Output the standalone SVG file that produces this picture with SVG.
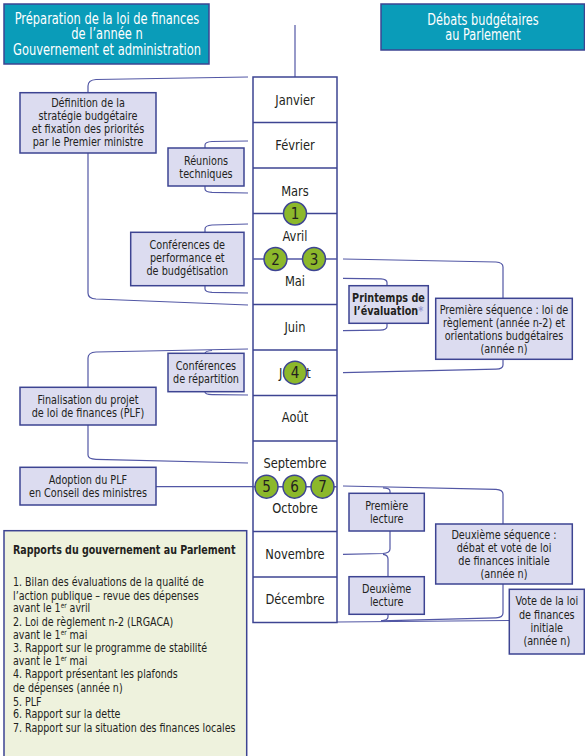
<svg xmlns="http://www.w3.org/2000/svg" width="585" height="756" viewBox="0 0 585 756">
<style>
text{font-family:"DejaVu Sans Condensed","Liberation Sans",sans-serif;fill:#231f20}
.hd{fill:#0a9cb9;stroke:#3d4492;stroke-width:1.5}
.hdt{fill:#ffffff;font-size:15px;text-anchor:middle}
.mo{fill:#ffffff;stroke:#3d4492;stroke-width:1.5}
.mt{font-size:14.5px;text-anchor:middle}
.nd{fill:#dcdcf0;stroke:#3d4492;stroke-width:1.5}
.nt{font-size:12.8px;text-anchor:middle}
.cn{fill:none;stroke:#5257a5;stroke-width:1.2}
.ci{fill:#8cb82b;stroke:#3d4492;stroke-width:1.5}
.ct{font-size:15px;text-anchor:middle}
.gb{fill:#eef2dd;stroke:#3d4492;stroke-width:1.5}
.gt{font-size:12.3px}
.sup{font-size:7.5px}
</style>

<g id="header-left">
<rect class="hd" x="4" y="4" width="205" height="60"/>
<g transform="translate(107 0) scale(0.85 1) translate(-107 0)">
<text class="hdt" x="107" y="24">Préparation de la loi de finances</text>
<text class="hdt" x="107" y="39.5">de l’année n</text>
<text class="hdt" x="107" y="55">Gouvernement et administration</text>
</g>
</g>

<g id="header-right">
<rect class="hd" x="381" y="4" width="203.5" height="46"/>
<g transform="translate(483 0) scale(0.84 1) translate(-483 0)">
<text class="hdt" x="483" y="25">Débats budgétaires</text>
<text class="hdt" x="483" y="40">au Parlement</text>
</g>
</g>

<g id="connectors">
<path class="cn" d="M295,25 L295,77"/>
<path class="cn" d="M248,77 L96,79.5 Q88,80 88,86 L88,93"/>
<path class="cn" d="M88,153 L88,293 Q88,298.5 96,299 L248,305"/>
<path class="cn" d="M248,141 L212,141.5 Q205,142 205,145 L205,148"/>
<path class="cn" d="M205,186 L205,189 Q205,192 212,192.3 L248,193"/>
<path class="cn" d="M248,224 L212,225 Q205,225.5 205,229 L205,232"/>
<path class="cn" d="M205,286 L205,289 Q205,292 212,292.3 L248,293"/>
<path class="cn" d="M248,349 L96,352 Q88,352.5 88,358 L88,387"/>
<path class="cn" d="M212,350.5 Q205,351 205,353.5"/>
<path class="cn" d="M205,392 Q205,394.5 212,394.6 L248,395"/>
<path class="cn" d="M88,425 L88,455 Q88,459 96,459.3 L248,463"/>
<path class="cn" d="M156,486.7 L253,486.7"/>
<path class="cn" d="M343,259 L496,262 Q503,262.5 503,267 L503,298.3"/>
<path class="cn" d="M503,359.3 L503,365 Q503,369 496,369.2 L343,372.7"/>
<path class="cn" d="M343,278.3 L381,278.8 Q387,279.3 387,282.5 L387,285.7"/>
<path class="cn" d="M387,323.3 L387,326.5 Q387,330 380,330.2 L343,330.7"/>
<path class="cn" d="M343,486 L496,489.3 Q503,489.8 503,494 L503,524"/>
<path class="cn" d="M383,487.9 Q390,488.2 390,491 L390,493.3"/>
<path class="cn" d="M390,531 L390,549 Q390,553 383,553.5 L343,554.3"/>
<path class="cn" d="M383,554.3 Q388,554.8 388,559 L388,576.7"/>
<path class="cn" d="M388,614.3 L388,617 Q388,620.3 381,620.8"/>
<path class="cn" d="M503,584 L503,613 Q503,617.5 496,617.8 L381,620.8"/>
<path class="cn" d="M337,622 L509,620.5"/>
</g>

<g id="months">
<rect class="mo" x="253" y="77" width="84" height="545.5"/>
<g stroke="#3d4492" stroke-width="1.5">
<line x1="253" y1="122.5" x2="337" y2="122.5"/>
<line x1="253" y1="168" x2="337" y2="168"/>
<line x1="253" y1="213.5" x2="337" y2="213.5"/>
<line x1="253" y1="304.5" x2="337" y2="304.5"/>
<line x1="253" y1="350" x2="337" y2="350"/>
<line x1="253" y1="395.5" x2="337" y2="395.5"/>
<line x1="253" y1="441" x2="337" y2="441"/>
<line x1="253" y1="531.5" x2="337" y2="531.5"/>
<line x1="253" y1="577" x2="337" y2="577"/>
</g>
<line x1="253" y1="259" x2="337" y2="259" stroke="#5257a5" stroke-width="1.5"/>
<line x1="253" y1="486.7" x2="337" y2="486.7" stroke="#5257a5" stroke-width="1.5"/>
<g transform="translate(295 0) scale(0.88 1) translate(-295 0)">
<text class="mt" x="295" y="105">Janvier</text>
<text class="mt" x="295" y="150">Février</text>
<text class="mt" x="295" y="196">Mars</text>
<text class="mt" x="295" y="241">Avril</text>
<text class="mt" x="295" y="286">Mai</text>
<text class="mt" x="295" y="332">Juin</text>
<text class="mt" x="295" y="378">Juillet</text>
<text class="mt" x="295" y="422">Août</text>
<text class="mt" x="295" y="468.5">Septembre</text>
<text class="mt" x="295" y="513.5">Octobre</text>
<text class="mt" x="295" y="559.5">Novembre</text>
<text class="mt" x="295" y="604.5">Décembre</text>
</g>
</g>

<g id="circle-1"><circle class="ci" cx="295" cy="213.5" r="11.5"/><text class="ct" x="295" y="219">1</text></g>
<g id="circle-2"><circle class="ci" cx="275.5" cy="259" r="11.5"/><text class="ct" x="275.5" y="264.5">2</text></g>
<g id="circle-3"><circle class="ci" cx="314" cy="259" r="11.5"/><text class="ct" x="314" y="264.5">3</text></g>
<g id="circle-4"><circle class="ci" cx="295" cy="372.7" r="11.5"/><text class="ct" x="295" y="378.2">4</text></g>
<g id="circle-5"><circle class="ci" cx="266.5" cy="486.7" r="11.5"/><text class="ct" x="266.5" y="492.2">5</text></g>
<g id="circle-6"><circle class="ci" cx="294.5" cy="486.7" r="11.5"/><text class="ct" x="294.5" y="492.2">6</text></g>
<g id="circle-7"><circle class="ci" cx="322.5" cy="486.7" r="11.5"/><text class="ct" x="322.5" y="492.2">7</text></g>

<g id="definition">
<rect class="nd" x="20" y="92.7" width="136" height="60.3"/>
<g transform="translate(88 0) scale(0.84 1) translate(-88 0)">
<text class="nt" x="88" y="107">Définition de la</text>
<text class="nt" x="88" y="120">stratégie budgétaire</text>
<text class="nt" x="88" y="133">et fixation des priorités</text>
<text class="nt" x="88" y="146">par le Premier ministre</text>
</g>
</g>

<g id="reunions">
<rect class="nd" x="168" y="148" width="76" height="38"/>
<g transform="translate(206 0) scale(0.84 1) translate(-206 0)">
<text class="nt" x="206" y="165">Réunions</text>
<text class="nt" x="206" y="178">techniques</text>
</g>
</g>

<g id="conferences-performance">
<rect class="nd" x="130.7" y="232.3" width="113.3" height="53.4"/>
<g transform="translate(187.3 0) scale(0.84 1) translate(-187.3 0)">
<text class="nt" x="187.3" y="249">Conférences de</text>
<text class="nt" x="187.3" y="262">performance et</text>
<text class="nt" x="187.3" y="275">de budgétisation</text>
</g>
</g>

<g id="conferences-repartition">
<rect class="nd" x="168" y="353.3" width="76" height="38.4"/>
<g transform="translate(206 0) scale(0.84 1) translate(-206 0)">
<text class="nt" x="206" y="370">Conférences</text>
<text class="nt" x="206" y="383.5">de répartition</text>
</g>
</g>

<g id="finalisation">
<rect class="nd" x="20" y="387.3" width="136" height="37.7"/>
<g transform="translate(88 0) scale(0.84 1) translate(-88 0)">
<text class="nt" x="88" y="404">Finalisation du projet</text>
<text class="nt" x="88" y="417">de loi de finances (PLF)</text>
</g>
</g>

<g id="adoption">
<rect class="nd" x="20" y="467.3" width="136" height="37.7"/>
<g transform="translate(88 0) scale(0.84 1) translate(-88 0)">
<text class="nt" x="88" y="484">Adoption du PLF</text>
<text class="nt" x="88" y="497">en Conseil des ministres</text>
</g>
</g>

<g id="printemps">
<rect class="nd" x="349" y="285.7" width="79.3" height="37.6"/>
<g transform="translate(388.5 0) scale(0.84 1) translate(-388.5 0)">
<text class="nt" x="388.5" y="302" font-weight="bold">Printemps de</text>
<text class="nt" x="388.5" y="315.5" font-weight="bold">l’évaluation<tspan fill="#9b9bd0">*</tspan></text>
</g>
</g>

<g id="premiere-sequence">
<rect class="nd" x="435.7" y="298.3" width="136.6" height="61"/>
<g transform="translate(504 0) scale(0.84 1) translate(-504 0)">
<text class="nt" x="504" y="314">Première séquence : loi de</text>
<text class="nt" x="504" y="327">règlement (année n-2) et</text>
<text class="nt" x="504" y="340.5">orientations budgétaires</text>
<text class="nt" x="504" y="353.5">(année n)</text>
</g>
</g>

<g id="premiere-lecture">
<rect class="nd" x="349" y="493.3" width="75.3" height="37.7"/>
<g transform="translate(386.7 0) scale(0.84 1) translate(-386.7 0)">
<text class="nt" x="386.7" y="510.5">Première</text>
<text class="nt" x="386.7" y="523">lecture</text>
</g>
</g>

<g id="deuxieme-lecture">
<rect class="nd" x="349" y="576.7" width="75.3" height="37.6"/>
<g transform="translate(386.7 0) scale(0.84 1) translate(-386.7 0)">
<text class="nt" x="386.7" y="593.5">Deuxième</text>
<text class="nt" x="386.7" y="606">lecture</text>
</g>
</g>

<g id="deuxieme-sequence">
<rect class="nd" x="435.7" y="524" width="136.6" height="60"/>
<g transform="translate(504 0) scale(0.84 1) translate(-504 0)">
<text class="nt" x="504" y="539.5">Deuxième séquence :</text>
<text class="nt" x="504" y="552.5">débat et vote de loi</text>
<text class="nt" x="504" y="565">de finances initiale</text>
<text class="nt" x="504" y="578">(année n)</text>
</g>
</g>

<g id="vote">
<rect class="nd" x="509.3" y="589.3" width="75" height="64.7"/>
<g transform="translate(546.8 0) scale(0.84 1) translate(-546.8 0)">
<text class="nt" x="546.8" y="605.5">Vote de la loi</text>
<text class="nt" x="546.8" y="619">de finances</text>
<text class="nt" x="546.8" y="632.5">initiale</text>
<text class="nt" x="546.8" y="645">(année n)</text>
</g>
</g>

<g id="rapports">
<rect class="gb" x="4" y="530.7" width="242.7" height="235"/>
<g transform="translate(13 0) scale(0.86 1) translate(-13 0)">
<text class="gt" x="13" y="554.5" font-weight="bold">Rapports du gouvernement au Parlement</text>
<text class="gt" x="13" y="586">1. Bilan des évaluations de la qualité de</text>
<text class="gt" x="13" y="600">l’action publique – revue des dépenses</text>
<text class="gt" x="13" y="612.5">avant le 1<tspan class="sup" dy="-4">er</tspan><tspan dy="4"> avril</tspan></text>
<text class="gt" x="13" y="626">2. Loi de règlement n-2 (LRGACA)</text>
<text class="gt" x="13" y="639">avant le 1<tspan class="sup" dy="-4">er</tspan><tspan dy="4"> mai</tspan></text>
<text class="gt" x="13" y="652">3. Rapport sur le programme de stabilité</text>
<text class="gt" x="13" y="665.5">avant le 1<tspan class="sup" dy="-4">er</tspan><tspan dy="4"> mai</tspan></text>
<text class="gt" x="13" y="678.5">4. Rapport présentant les plafonds</text>
<text class="gt" x="13" y="692.5">de dépenses (année n)</text>
<text class="gt" x="13" y="706">5. PLF</text>
<text class="gt" x="13" y="718.5">6. Rapport sur la dette</text>
<text class="gt" x="13" y="732.5">7. Rapport sur la situation des finances locales</text>
</g>
</g>
</svg>
